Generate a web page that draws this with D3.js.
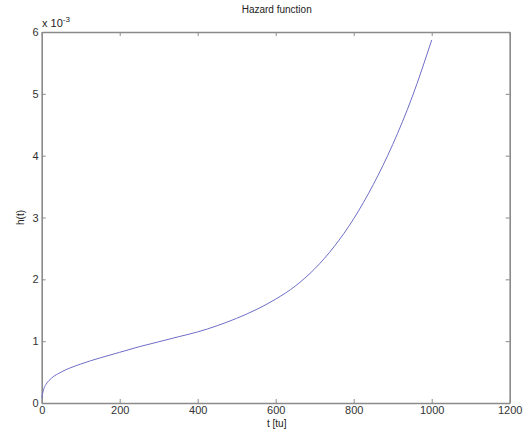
<!DOCTYPE html>
<html><head><meta charset="utf-8">
<script src="https://cdn.jsdelivr.net/npm/d3@7"></script>
<style>body{margin:0;background:#fff}svg{display:block}text{font-family:"Liberation Sans",Arial,sans-serif}</style>
</head><body><svg id="c" width="524" height="429"></svg>
<script>
const tValues = [0, 5, 11, 25, 50, 100, 150, 200, 250, 300, 350, 400, 450, 500, 550, 600, 650, 700, 750, 800, 850, 900, 950, 1000];
const hValues = [0.08, 0.22, 0.30, 0.40, 0.50, 0.63, 0.73, 0.82, 0.91, 0.99, 1.07, 1.15, 1.25, 1.37, 1.51, 1.68, 1.89, 2.17, 2.53, 2.98, 3.53, 4.18, 4.95, 5.87];
const xTicks = [0, 200, 400, 600, 800, 1000, 1200];
const yTicks = [0, 1, 2, 3, 4, 5, 6];
const titleText = "Hazard function";
const xLabel = "t [tu]";
const yLabel = "h(t)";

const svg = d3.select("#c");
const L = 41.7, R = 509.7, T = 32, B = 403;
const x = d3.scaleLinear().domain([0, 1200]).range([L, R]);
const y = d3.scaleLinear().domain([0, 6]).range([B, T]);
const axisCol = "#8a8a8a", txtCol = "#333";
const fmt = d3.format("d");

function styleAxis(g, showLabels) {
  g.select(".domain").attr("stroke", axisCol).attr("stroke-width", 1.6);
  g.selectAll(".tick line").attr("stroke", axisCol);
  g.selectAll(".tick text").attr("fill", txtCol).style("font-size", "11px");
  if (!showLabels) g.selectAll(".tick text").remove();
}
styleAxis(svg.append("g").attr("transform", `translate(0,${B})`)
  .call(d3.axisBottom(x).tickValues(xTicks).tickFormat(fmt).tickSize(-4).tickPadding(3).tickSizeOuter(0)), true);
styleAxis(svg.append("g").attr("transform", `translate(0,${T})`)
  .call(d3.axisTop(x).tickValues(xTicks).tickSize(-4).tickSizeOuter(0)), false);
styleAxis(svg.append("g").attr("transform", `translate(${L},0)`)
  .call(d3.axisLeft(y).tickValues(yTicks).tickFormat(fmt).tickSize(-4).tickPadding(3).tickSizeOuter(0)), true);
styleAxis(svg.append("g").attr("transform", `translate(${R},0)`)
  .call(d3.axisRight(y).tickValues(yTicks).tickSize(-4).tickSizeOuter(0)), false);

const data = tValues.map((t, i) => ({t, h: hValues[i]}));
svg.append("path").datum(data)
  .attr("fill", "none").attr("stroke", "#6e6ec8").attr("stroke-width", 1)
  .attr("d", d3.line().x(d => x(d.t)).y(d => y(d.h)).curve(d3.curveMonotoneX));

svg.append("text").attr("x", (L + R) / 2 + 1).attr("y", 13).attr("text-anchor", "middle")
  .attr("fill", "#222").style("font-size", "10px").text(titleText);
svg.append("text").attr("x", (L + R) / 2 + 1).attr("y", 427).attr("text-anchor", "middle")
  .attr("fill", "#222").style("font-size", "10px").text(xLabel);
svg.append("text").attr("transform", `translate(24,${(T + B) / 2}) rotate(-90)`).attr("text-anchor", "middle")
  .attr("fill", "#222").style("font-size", "10px").text(yLabel);
const ex = svg.append("text").attr("x", 42).attr("y", 27).attr("fill", "#222").style("font-size", "11px");
ex.append("tspan").text("x 10");
ex.append("tspan").attr("dy", -5).style("font-size", "8px").text("-3");
</script></body></html>
